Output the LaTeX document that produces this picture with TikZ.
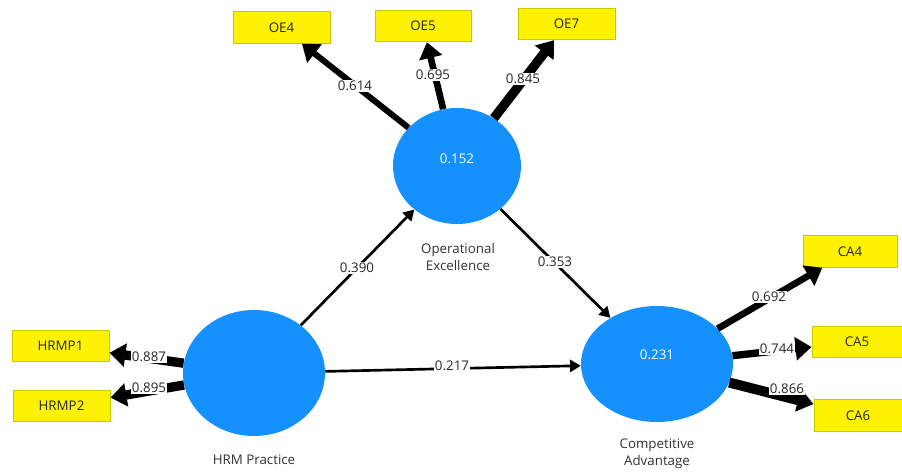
\documentclass[tikz,border=0pt]{standalone}
\usepackage{fontspec}
\setmainfont{Open Sans}
\usetikzlibrary{shapes.geometric,arrows.meta}
\definecolor{lvblue}{RGB}{20,145,255}
\definecolor{boxedge}{RGB}{200,200,0}
\begin{document}
\begin{tikzpicture}[x=0.75pt,y=-0.75pt,
  txt/.style={font=\fontsize{10}{12.5}\selectfont},
  lv/.style={ellipse, fill=lvblue, draw=none, inner sep=0pt},
  lvval/.style={txt, text=white, inner sep=0pt},
  ind/.style={rectangle, fill=yellow, draw=boxedge, line width=0.75pt, txt, text=black!85, minimum height=23.5pt, inner sep=0pt},
  load/.style={-{Triangle[length=12pt,width=17pt]}, black},
  inner/.style={-{Triangle[length=8pt,width=9pt]}, black, line width=2pt},
  lbl/.style={txt, fill=white, inner sep=0.6pt, text=black!85},
  lvname/.style={txt, align=center, text=black!80, inner sep=0pt}
]
\useasboundingbox (0,0) rectangle (902,473);
% latent variables
\node[lv, minimum width=96pt, minimum height=87pt] (OE) at (457,166) {};
\node[lv, minimum width=106.5pt, minimum height=94.5pt] (HRM) at (254,373) {};
\node[lv, minimum width=114pt, minimum height=87pt] (CA) at (657,364) {};
\node[lvval] (OEv) at (457,159) {0.152};
\node[lvval] (CAv) at (657,355) {0.231};
\node[lvname] (OEn) at (458,257) {Operational\\Excellence};
\node[lvname] (HRMn) at (254,460) {HRM Practice};
\node[lvname] (CAn) at (657,454) {Competitive\\Advantage};
% indicators
\node[ind, minimum width=72.75pt] (OE4) at (281.5,27.5) {OE4};
\node[ind, minimum width=72pt] (OE5) at (423,26) {OE5};
\node[ind, minimum width=72.75pt] (OE7) at (566.5,24) {OE7};
\node[ind, minimum width=72.75pt] (HRMP1) at (60.5,346) {HRMP1};
\node[ind, minimum width=72.75pt] (HRMP2) at (61.5,406) {HRMP2};
\node[ind, minimum width=70.5pt] (CA4) at (850,251.5) {CA4};
\node[ind, minimum width=67.5pt] (CA5) at (857,342) {CA5};
\node[ind, minimum width=66pt] (CA6) at (858,415.5) {CA6};
% outer loadings
\draw[load, line width=4.5pt] (OE) -- (OE4);
\draw[load, line width=5pt] (OE) -- (OE5);
\draw[load, line width=7pt] (OE) -- (OE7);
\draw[load, line width=7pt] (HRM) -- (HRMP1);
\draw[load, line width=7pt] (HRM) -- (HRMP2);
\draw[load, line width=5pt] (CA) -- (CA4);
\draw[load, line width=5.5pt] (CA) -- (CA5);
\draw[load, line width=7.5pt] (CA) -- (CA6);
% structural paths
\draw[inner] (HRM) -- (OE);
\draw[inner] (OE) -- (CA);
\draw[inner] (HRM) -- (CA);
% labels
\node[lbl] (l1) at (355,86) {0.614};
\node[lbl] (l2) at (433,75) {0.695};
\node[lbl] (l3) at (523,79) {0.845};
\node[lbl] (l4) at (149,357) {0.887};
\node[lbl] (l5) at (149,388) {0.895};
\node[lbl] (l6) at (769,297) {0.692};
\node[lbl] (l7) at (777,349) {0.744};
\node[lbl] (l8) at (787,389) {0.866};
\node[lbl] (l9) at (357,268) {0.390};
\node[lbl] (l10) at (555,262) {0.353};
\node[lbl] (l11) at (452,366) {0.217};
\end{tikzpicture}
\end{document}
